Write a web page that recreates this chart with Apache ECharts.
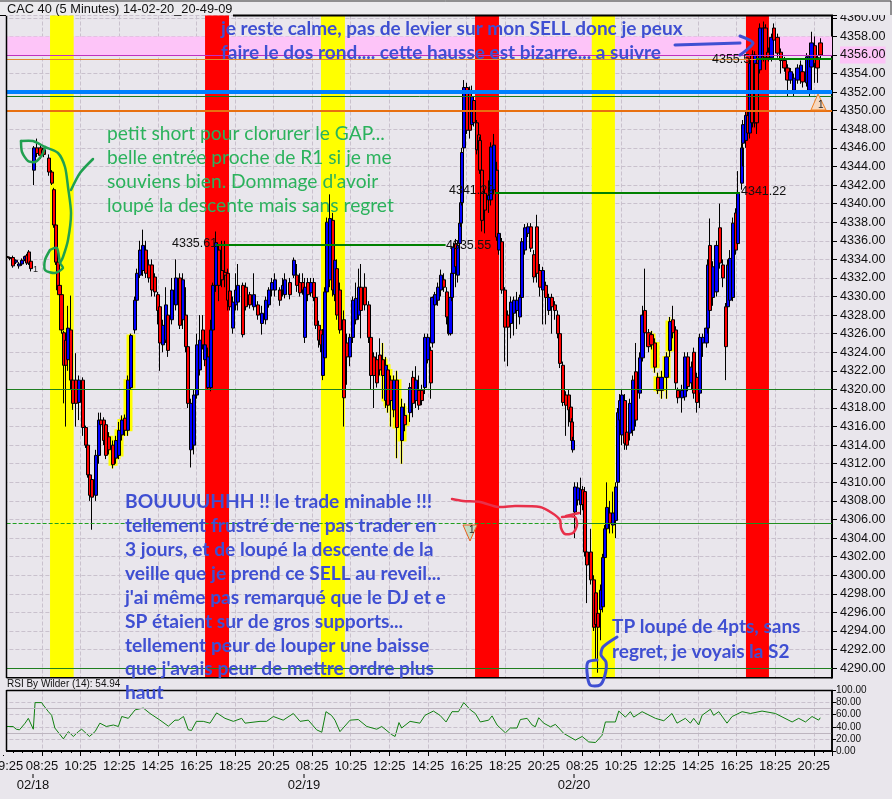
<!DOCTYPE html>
<html><head><meta charset="utf-8">
<style>html,body{margin:0;padding:0;background:#e9e6ec}#c{width:892px;height:799px}</style>
<script src="https://cdn.jsdelivr.net/npm/echarts@6/dist/echarts.min.js"></script>
</head><body><div id="c"></div>
<script>
// rows: [bar index (5-minute bars), open, close, low, high]
const candlesFeb17 = [
[2.3,4334.3,4334.2,4334,4334.5],[4.1,4334.2,4334.1,4333.9,4334.3],[6,4334.2,4333.3,4333.1,4334.4],[7.9,4333.7,4333.9,4333.5,4334],
[9.7,4333.3,4333.5,4333,4333.7],[11.6,4333.5,4333.9,4333.3,4334.1],[13.4,4334,4334.3,4333.8,4334.4],[14.7,4334.4,4333.6,4333.4,4334.6],
[16,4334.8,4333.6,4333.4,4335],[17.2,4333.8,4333,4332.7,4334]];
const candlesFeb18 = [
[19,4343.6,4346,4342,4346.2],[21,4346,4345.4,4345,4347],[23,4346,4345.2,4344.8,4346.3],[25,4345.8,4345.3,4345,4346],
[28.4,4344.9,4343.4,4343,4345.3],[30.2,4343.4,4342.2,4342,4343.6],[31.4,4341.5,4337.7,4337.4,4341.7],[32.6,4337.7,4333.7,4333.4,4337.9],
[33.8,4333.7,4330.7,4330.3,4333.9],[35,4331.2,4330.2,4329.9,4331.4],[36,4330.2,4326.4,4326,4330.4],[37.6,4326.1,4322.6,4318.5,4326.3],
[39,4325.3,4322.6,4316,4325.5],[40.2,4323.2,4326.6,4322,4329],[42,4326.4,4321,4320,4330.1],[43.3,4321,4318.5,4317.8,4321.5],
[45.2,4321,4318.5,4316,4323.9],[47,4318.6,4321,4316.7,4321.5],[49.5,4321,4315.9,4315,4321.3],[51.4,4315.9,4314,4313.7,4316.1],
[52.6,4314,4310.8,4310.5,4314.2],[53.9,4310.8,4308.6,4308,4311],[55.1,4310.3,4308.4,4304.9,4310.5],[57.6,4308.6,4312.9,4308,4313.5],
[59.5,4312.9,4316.7,4312,4317.5],[60.7,4316.7,4316.2,4316,4317.5],[62.6,4316.7,4314.5,4314,4317],[63.8,4316.2,4312.9,4312.5,4316.5],
[65.7,4314.9,4313.5,4313,4315.4],[68.2,4314,4311.9,4311.5,4314.5],[70,4312.6,4314.5,4312,4315],[71.9,4312.9,4315.6,4312.5,4316.5],
[73.8,4315.1,4316.7,4314.5,4317.2],[75.6,4316.9,4315.6,4315,4317.3],[77.5,4315.6,4321,4315,4321.5],[79.4,4320.2,4325.8,4320,4326],
[81.9,4326.4,4329.6,4326,4330],[83.1,4329.6,4332.5,4329,4333],[85,4332.3,4335,4332,4336],[86.8,4332.8,4335.5,4332.2,4337.2],
[88.7,4335,4332.5,4332,4336],[90.6,4333.4,4332,4331.5,4334],[92.4,4333.4,4330.7,4330,4334],[94.3,4332.1,4330.5,4330,4332.5],
[96.2,4330.2,4328.5,4327,4330.5],[97.4,4328.9,4325,4322,4329.5],[99.3,4324.8,4326.9,4324,4327.5],[101.1,4325.3,4329.1,4325,4331],
[102.4,4328,4324.2,4323.5,4329],[104.9,4327.5,4330.7,4327,4332],[107.4,4329.1,4332,4328.5,4334],[109.8,4332,4326.9,4326.5,4332.5],
[111.7,4327.5,4331.8,4326.5,4332.5],[113.6,4328,4324.6,4324,4331],[114.8,4324.6,4318.5,4318,4325],[116.7,4313.5,4318.5,4311.6,4319],
[118.5,4314,4319.4,4313,4320],[120.4,4319.4,4324.8,4319,4326],[122.3,4322.1,4325.3,4321.5,4328],[124.1,4326.4,4324.8,4324.3,4328],
[125.4,4323.2,4324.8,4322.5,4326],[127.3,4320.2,4323.5,4320,4324.5],[129.1,4320.2,4326.4,4319.8,4327.5],[130.4,4326.4,4331.2,4326,4331.5],
[132.2,4331.2,4335.8,4330.5,4337],[134.1,4335,4331.2,4329.5,4335.5],[136,4332.8,4331.8,4331,4336],[137.8,4332.6,4332.3,4331,4336],
[139.7,4332.5,4329.6,4328.5,4333],[141,4330.6,4328.9,4328.5,4332],[142.8,4326.6,4329.4,4326,4330],[144.7,4329.1,4330.7,4328.5,4332.5],
[146,4329.4,4331.2,4328.5,4333.5],[149,4331.2,4325.9,4325.6,4331.5],[150.9,4331,4328.9,4328.5,4331.5],[153.4,4330.2,4329.1,4328.7,4330.5],
[155.9,4328.9,4330.2,4328.5,4332.5],[158.4,4329.1,4328,4327.5,4329.5],[160.8,4327.1,4328.2,4325.9,4329],[163.3,4327.5,4329.6,4327,4330],
[165.2,4329.1,4330.7,4328.8,4331],[167,4330.7,4331.5,4330,4332]];
const candlesFeb19 = [
[168.9,4330.7,4331.8,4330,4332.5],[172,4330.7,4329.6,4329,4331],[173.9,4330.7,4331.2,4330,4332],[175.1,4330.2,4331.8,4329.8,4332.5],
[178.2,4331.5,4330.2,4329.7,4332],[180.7,4332.3,4333.9,4332,4334.2],[182.6,4332.3,4331.2,4330.5,4333.5],[184.5,4331.5,4330.4,4330,4332.5],
[186.3,4331.5,4330.7,4330.2,4332.5],[187.6,4325.6,4331,4325,4332],[189.4,4331.5,4330.2,4329.5,4332],[191.3,4330.4,4331.5,4330,4332],
[193.2,4331.5,4329.9,4329.5,4332],[194.4,4329.9,4326.9,4326.5,4330.3],[196.3,4326.9,4325.3,4324.5,4327.4],[197.5,4326.4,4324.8,4324,4326.9],
[198.8,4321.5,4325.9,4321,4326.5],[200,4323.4,4330.5,4323,4331],[201.3,4330.5,4338,4329.5,4338.5],[203.1,4331.8,4338.4,4331,4341],
[205,4338.2,4330.7,4330,4339],[206.2,4330.2,4333.9,4329.5,4336],[207.5,4333,4328,4327.5,4334],[209.4,4330.7,4326.4,4326,4331.5],
[211.8,4327.5,4319.1,4316,4328.5],[213.7,4325,4323.5,4320.5,4326],[215.6,4323.5,4325.6,4322.5,4326],[217.4,4325.6,4329.6,4325,4330],
[219.3,4327.5,4329.8,4327,4331.5],[221.2,4328,4331,4327.5,4333],[222.4,4331,4328.5,4325.5,4333.5],[224.9,4331,4329.1,4328.5,4332.5],
[227.4,4329.1,4325.6,4325,4329.5],[228.6,4325.6,4321.5,4320,4326],[230.5,4323.5,4321.5,4318,4324],[232.4,4323.2,4320.7,4320.2,4324],
[234.2,4323.7,4322.1,4321.5,4325.5],[236.1,4323.2,4321.5,4319,4325],[238,4318.8,4322.6,4318,4323.5],[239.2,4322.1,4318.3,4317.5,4322.6],
[241.1,4321,4318.8,4316,4321.5],[243,4317.8,4321,4317,4321.5],[244.8,4321,4315.9,4312.6,4322],[247.9,4314.5,4318.1,4312,4319],
[249.8,4317.2,4316.2,4315.5,4318.5],[252.9,4317.5,4320.2,4316.5,4320.7],[254.7,4321.3,4318.5,4317,4322],[256.6,4318.8,4321,4318,4322.5],
[258.5,4319.9,4318.3,4317.8,4321.5],[260.3,4319.9,4318.8,4318.3,4320.5],[262.2,4320.2,4325.6,4319.5,4326],[264,4323.2,4325.6,4322.8,4326],
[265.9,4324.2,4320.7,4319,4324.6],[266.9,4325,4329.9,4324.5,4330],[268.4,4329.1,4330.2,4328.5,4330.5],[270.3,4329.6,4331,4329,4331.5],
[272.2,4330.7,4332.3,4330,4332.9],[274,4331.8,4331,4330.5,4332.5],[275.9,4330.5,4327.8,4327,4331],[277.1,4327.8,4326,4325.8,4328.2],
[278.1,4326,4329.9,4325.8,4330.2],[279,4329.9,4332.5,4329.5,4333],[279.9,4332.5,4335.3,4332,4335.8],[281.5,4335.7,4333.2,4331,4336.2],
[282.7,4332.3,4335.5,4331.5,4336],[284,4335.7,4337.9,4335,4338.3],[284.6,4337.9,4340.1,4337.5,4340.5],[285.2,4340.1,4345.5,4339.8,4346],
[286.5,4346,4352.5,4345.5,4353.3],[288.3,4352.5,4347.9,4347.5,4353],[290.2,4352.2,4347.9,4347,4352.6],[291.4,4348.5,4351.5,4348,4352.7],
[292.7,4351.1,4348.7,4348.3,4351.5],[294.5,4348.7,4345.8,4345.3,4349],[295.8,4347.4,4345.8,4345.3,4347.8],[296.4,4346.8,4343.6,4343.2,4347.2],
[297.7,4343.6,4338.2,4337,4344],[299.5,4341.1,4339.3,4336.8,4341.5],[302,4340.4,4340.9,4339,4342.5],[303.2,4340.4,4346.1,4339.8,4346.6],
[305.1,4341.5,4346.3,4341,4347.5],[307,4343.6,4336.4,4336,4344.5],[308.2,4335,4336.8,4334.5,4337.5],[310.1,4335.9,4330.7,4330.3,4336.3],
[312,4330.7,4326.7,4323,4331],[313.8,4328,4326.7,4322.5,4328.5],[315.7,4327.1,4329.4,4325.5,4330],[317.5,4328.2,4329.6,4325.8,4330],
[319.4,4328.5,4329.6,4326.5,4330.5],[321.3,4327.8,4329.9,4327,4330.2],[322.5,4329.9,4335.9,4329.5,4336.3],[324.4,4335,4337.4,4334.5,4337.8],
[326.3,4336.8,4337.5,4336.4,4337.9],[328.1,4337.5,4335.2,4334.8,4337.9],[330,4334.5,4332.1,4331.5,4335],[331.9,4337.5,4332.5,4331.5,4338.8],
[333.7,4332.8,4331,4330,4333.5],[335.6,4330.7,4332.8,4327,4333.2]];
const candlesFeb20 = [
[337.5,4331.2,4329.9,4327,4331.6],[339.3,4328.5,4329.9,4328,4330.3],[341.2,4329.9,4328.9,4326,4330.3],[343.1,4329.1,4328.5,4327.5,4329.5],
[344.9,4328,4326,4325.5,4328.5],[346.2,4326,4322.8,4322.3,4326.4],[348,4322.6,4318.6,4318.2,4323],[349.9,4319.4,4318.3,4315,4319.8],
[351.8,4319.4,4317.8,4316,4320],[353,4318.1,4316.5,4316,4318.5],[353.6,4316.5,4314.5,4314,4316.9],[354.2,4313.5,4314.5,4313.2,4314.9],
[355.5,4306.8,4309.5,4304,4310],[357.4,4308.1,4309.4,4307.5,4310],[359.2,4307.6,4309.2,4306.5,4310.5],[360.5,4309.2,4307.6,4307,4309.6],
[361.7,4309,4302.5,4302,4309.5],[363,4302.5,4301.1,4297,4303],[365.4,4302.5,4299.5,4299,4305],[367.3,4299.5,4294.4,4294,4300],
[368.5,4298.1,4294.7,4291,4298.5],[369.8,4295.9,4294.4,4289.5,4296.3],[371.7,4296.3,4298.4,4293,4299],[372.9,4296.6,4301.9,4296,4302.3],
[374.2,4301.9,4305,4301.5,4305.4],[375.4,4305,4307.3,4304,4310],[377.3,4306.7,4305.6,4304.5,4308],[379.1,4305.4,4306.7,4304.5,4309],
[381,4305.9,4309.5,4304,4310],[382.2,4310,4317.5,4309.5,4318],[383.5,4316.7,4318.8,4316,4319.5],[384.7,4315.1,4319.4,4314,4320],
[386.6,4318.8,4314.2,4313.5,4319.5],[387.8,4315.4,4314,4313.5,4316],[389.7,4315.3,4318.5,4314.5,4319],[391.6,4315.6,4321,4315,4321.5],
[393.4,4321.9,4316.7,4316,4325],[395.9,4319.6,4323.4,4319,4324],[397.6,4323.4,4328,4323,4329],[399,4328.5,4326.1,4325.5,4333],
[401.1,4326.1,4324.6,4324,4326.5],[403.2,4325.9,4324.8,4324.3,4326.3],[405.2,4325,4322.4,4321.8,4325.5],[407.1,4321.3,4319.9,4319.5,4321.8],
[409.4,4319.9,4321.3,4319,4322],[412.5,4321.3,4323.5,4319,4324],[414.6,4324.2,4327.3,4323.5,4327.8],[416.3,4327.5,4326.1,4325.5,4329],
[418.3,4326.4,4320.7,4320,4326.8],[419.5,4319.9,4319.1,4318.5,4320.2],[421.9,4319.1,4319.9,4317.5,4320.5],[423.9,4319.2,4323.5,4318.8,4324],
[425.8,4323.5,4320.3,4319.8,4324],[428,4320.7,4322.4,4320,4323],[429.5,4324,4319.6,4319,4324.5],[431.2,4321.3,4318.6,4317.5,4321.8],
[433.2,4319.6,4325.6,4318,4326],[435.1,4325,4325.6,4323.5,4326],[437.4,4325,4326.6,4324.5,4327],[438.2,4326.6,4333.4,4326,4334],
[439.4,4335.5,4328.5,4328,4338.4],[441.3,4329.9,4333.2,4329,4333.8],[443.6,4330.5,4335.5,4330,4336],[445.7,4337.4,4333.6,4333,4340],
[447.5,4333.4,4332,4331,4334],[449.4,4328.9,4324.6,4321,4329.3],[450.5,4328.9,4333.4,4328,4334],[451.9,4329.6,4334.1,4329,4335],
[453.7,4329.9,4337.9,4329.5,4338.5],[455.6,4339,4335,4334.5,4339.5],[456.9,4335.7,4341.2,4335.3,4343.5],[459.2,4342.2,4346,4341.5,4346.5],
[460,4346.5,4348.5,4344,4349],[461.8,4346.8,4349.5,4346,4350],[463.1,4349.5,4347.6,4347,4350],[464.3,4347.6,4355.1,4347,4355.6],
[466,4356,4348.7,4348.2,4356.5],[467.4,4348.7,4356,4348.2,4356.4],[468.5,4355.1,4348.7,4347.5,4356],[470.5,4354.4,4358.9,4354,4359.4],
[472.6,4355.8,4358.9,4355.3,4359.6],[474,4358.9,4355.7,4354.4,4359.3],[475.7,4356.3,4355.7,4355.3,4356.8],[477.8,4355.7,4357.9,4355.3,4358.3],
[479.2,4358.9,4357.6,4357.2,4359.4],[481.3,4357.9,4356.2,4355.7,4358.3],[483.6,4356.3,4355.4,4354,4356.7],[485.7,4355.4,4354.6,4354.2,4355.8],
[487.5,4354.6,4353.3,4351.5,4355],[489.6,4353.3,4354.2,4352.9,4354.6],[491.7,4352.2,4353.5,4351.5,4354],[493.7,4353.3,4354.6,4352.9,4355],
[495.9,4353.3,4354.9,4352.9,4355.4],[496.8,4354.2,4353.1,4352.5,4354.6],[499.6,4353,4355.8,4352.6,4356.2],[501.2,4352.2,4355.8,4351.5,4356.2],
[502.7,4354.7,4357.3,4354.3,4358.5],[504.7,4357,4355.1,4353,4358],[506.2,4355.7,4354.6,4353,4356],[508.3,4357.3,4356,4355.5,4357.8]];
// RSI: [bar index, value]
const rsiValues = [[2,40.5],[6,40.5],[8,36],[10,35],[13.5,46],[15.5,54],[18.6,36],[19.7,80],[23.8,80],[24.8,76],[28,65],[30,59],[32,38],[37.3,20],[40.4,32],[43.5,24],[46.6,32],[48.7,36],[53.5,24],[57,32],[60,46],[64,40.5],[68.4,43],[71.5,40.5],[73.6,57],[77.7,54],[81.9,68],[87,71],[91.2,62],[97.4,51],[102.6,41],[106.7,51],[108.8,51],[112,57],[115,35],[117,34],[120,49],[124.3,49],[128.5,46],[132.6,63],[137.8,54],[143,49],[148.2,54],[150.3,46],[159.6,49],[163.7,49],[167.9,57],[174,51],[180.3,62],[184.5,49],[189.6,51],[194.8,35],[198,31],[200.6,65],[204,59],[206.2,51],[209.3,32],[215.6,51],[220.7,52],[226,40.5],[232.2,36],[235.3,40.5],[241.5,27],[243.6,24],[246,47],[247.7,38],[252.9,49],[259,46],[262.2,59],[267.4,66],[271.5,59],[275.3,48],[279,65],[283,65],[286.3,80],[290.4,68],[293.5,62],[296.6,48],[301.8,51],[303.9,58],[307,43],[312.2,30],[315.3,38],[319.4,38],[321.5,52],[325.7,54],[328.8,43],[330.8,40],[332.9,55],[336,46],[340.2,40],[343.3,44],[348.5,29],[355.7,18],[359.9,24],[364,15],[368.2,14],[372.3,26],[374.4,48],[380.6,48],[382.7,66],[386.8,56],[389.9,65],[392,56],[397.2,65],[405.5,54],[410.7,50],[415.8,62],[418.9,46],[424.1,54],[427.2,46],[429.3,54],[432.4,43],[434.5,59],[439.7,69],[441.7,59],[444.9,65],[450,46],[453.2,57],[459.4,65],[464.6,62],[471.8,66],[480.1,62],[490.5,48],[494.6,54],[498.8,48],[502.9,57],[507,51],[508,54.94]];
const tickLabels = ["19:25","08:25","10:25","12:25","14:25","16:25","18:25","20:25","08:25","10:25","12:25","14:25","16:25","18:25","20:25","08:25","10:25","12:25","14:25","16:25","18:25","20:25"];
const yellowBands = [[29,43.7],[197.5,212.4],[365.9,380.3]];
const redBands = [[125.4,140.3],[293.3,308.2],[461.8,476.1]];
const highlightRanges = [[65,81],[235,250],[402,416]];
const levels = [
 {v:4356,from:2,to:515.3,c:'#c030c0',w:1},
 {v:4355.55,from:2,to:515.3,c:'#e08a30',w:1},
 {v:4355.55,from:468,to:515.3,c:'#008000',w:2},
 {v:4352,from:2,to:515.3,c:'#0080ff',w:4},
 {v:4351.6,from:2,to:515.3,c:'#1a7a1a',w:1},
 {v:4350,from:2,to:515.3,c:'#e87010',w:2},
 {v:4341.22,from:305.7,to:458,c:'#008000',w:2},
 {v:4335.6,from:132,to:275,c:'#008000',w:2},
 {v:4320,from:2,to:515.3,c:'#1f7f1f',w:1},
 {v:4305.6,from:2,to:355.5,c:'#1f9f1f',w:1,dash:true},
 {v:4305.6,from:355.5,to:515.3,c:'#1f8f1f',w:1},
 {v:4290,from:2,to:515.3,c:'#1f7f1f',w:1},
 {v:4289,from:2,to:515.3,c:'#000',w:1}
];
const greenNote = ["petit short pour clorurer le GAP...","belle entrée proche de R1 si je me","souviens bien. Dommage d'avoir","loupé la descente mais sans regret"];
const topNote = ["je reste calme, pas de levier sur mon SELL donc je peux","faire le dos rond.... cette hausse est bizarre... a suivre"];
const mainNote = ["BOUUUUHHH !! le trade minable !!!","tellement frustré de ne pas trader en","3 jours, et de loupé la descente de la","veille que je prend ce SELL au reveil...","j'ai même pas remarqué que le DJ et e","SP étaient sur de gros supports...","tellement peur de louper une baisse","que j'avais peur de mettre ordre plus","haut"];
const tpNote = ["TP loupé de 4pts, sans","regret, je voyais la S2"];
const priceTags = [["4335.61",172,244],["4335.55",446,246],["4341.22",449,191],["4341.22",741,192],["4355.5",712,60]];
const dateLabels = [["02/18",33],["02/19",304],["02/20",574]];

const BG='#e9e6ec', GRID='#c9c1cd', BLUE='#3f4fd2', GREEN='#2bb25c';
const candles = candlesFeb17.concat(candlesFeb18,candlesFeb19,candlesFeb20);
const highlighted = candles.filter(r=>highlightRanges.some(g=>r[0]>=g[0]&&r[0]<=g[1]));
const xMax=515.3, yMin=4288, yMax=4360.25;

function poly(points,color,w){return {type:'polyline',z:60,silent:true,shape:{points,smooth:0.25},style:{stroke:color,lineWidth:w,fill:null,lineCap:'round',lineJoin:'round'}};}
function txt(t,x,y,font,fill,z,align){return {type:'text',z:z||70,silent:true,style:{text:t,x,y,font,fill,textAlign:align||'left',textVerticalAlign:'middle'}};}
function seg(x1,y1,x2,y2,w,c,z){return {type:'line',z:z||55,silent:true,shape:{x1,y1,x2,y2},style:{stroke:c||'#000',lineWidth:w||1}};}
function tri(pts,fill,stroke){return {type:'polygon',z:58,silent:true,shape:{points:pts},style:{fill,stroke,lineWidth:1}};}
const graphics=[
 {type:'rect',z:50,silent:true,shape:{x:0,y:678.5,width:837,height:11.5},style:{fill:BG}},
 {type:'rect',z:50,silent:true,shape:{x:0,y:15,width:6,height:740},style:{fill:BG}},
 {type:'rect',z:50,silent:true,shape:{x:0,y:0,width:892,height:15},style:{fill:'#ecebee'}},
 seg(0,1,891,1,1,'#333'), seg(891,1,891,15,1,'#333'),
 seg(233,15.5,833,15.5,2), seg(0,15.5,6,15.5,1),
 seg(6.5,16,6.5,678,1.5), seg(6.5,678,832,678,1),
 seg(6.5,690.5,833,690.5,1.5), seg(6.5,690,6.5,751,1.5), seg(832,690,832,751,1.5),
 seg(33,774,33,778,1),seg(304,774,304,778,1),seg(574,774,574,778,1),
 txt("CAC 40 (5 Minutes) 14-02-20_20-49-09",7,9,'12.8px "Liberation Sans"','#111'),
 txt("RSI By Wilder (14): 54.94",7,684,'10px "Liberation Sans"','#111'),
 poly([[21,141],[33,141],[45,147],[58,153],[65,167],[68,187],[71,213],[68,240],[63,257],[60,263]],'#20a050',2.5),
 poly([[21,141],[22,152],[28,161],[35,162],[42,155],[45,147]],'#20a050',2.5),
 poly([[50,250],[57,248],[60,263],[63,268],[55,273],[45,270],[45,260],[50,250]],'#20a050',2.5),
 poly([[71,190],[80,173],[93,159]],'#20a050',2.5),
 poly([[452,499],[463,501],[480,502],[498,507],[515,506],[540,507],[552,513],[560,520],[561,528],[565,534],[573,533],[577,525],[575,517],[562,517]],'#e8304a',2.5),
 poly([[566,516],[579,513]],'#e8304a',2.5),
 poly([[617,637],[603,647],[601,655],[606,662],[605,675],[600,685],[590,685],[587,672],[588,662],[597,660]],BLUE,3),
 poly([[675,45],[740,43]],BLUE,3),
 poly([[740,36],[753,43],[740,55]],BLUE,3),
 tri([[463,525],[477,525],[470,541]],'#c4dcc4','#e86020'),
 tri([[811,110],[826,110],[818,94]],'#f6d8c0','#f08020'),
 txt("1",469,530,'10px "Liberation Sans"','#222'),
 txt("1",818,105,'10px "Liberation Sans"','#222'),
 txt("1",33,270,'9px "Liberation Sans"','#222')
];
greenNote.forEach((t,i)=>graphics.push(txt(t,107,134+i*23.9,'19.2px Lato',GREEN)));
topNote.forEach((t,i)=>graphics.push(txt(t,221,29+i*24,'bold 19px Lato',BLUE)));
mainNote.forEach((t,i)=>graphics.push(txt(t,125,502+i*23.9,'bold 19.2px Lato',BLUE)));
tpNote.forEach((t,i)=>graphics.push(txt(t,612,627+i*25,'bold 19px Lato',BLUE)));
priceTags.forEach(p=>graphics.push(txt(p[0],p[1],p[2],'12.5px "Liberation Sans"','#111',56)));
dateLabels.forEach(d=>graphics.push(txt(d[0],d[1],785,'13px "Liberation Sans"','#111',56,'center')));

const chart=echarts.init(document.getElementById('c'),null,{renderer:'canvas'});
const tickFmt=v=>{const s=tickLabels[v/24];if(s===undefined)return '';return v===0?'\u00a0\u00a0'+s:s;};
chart.setOption({
 animation:false,backgroundColor:BG,
 graphic:graphics,
 grid:[{left:3.4,top:15.5,width:828.6,height:671.2,outerBoundsMode:'none',containLabel:false},{left:3.4,top:690.5,width:828.6,height:60.5,outerBoundsMode:'none',containLabel:false}],
 xAxis:[
  {type:'value',gridIndex:0,min:0,max:xMax,interval:24,axisLine:{show:false},axisTick:{show:false},axisLabel:{show:false},splitLine:{show:true,lineStyle:{color:GRID,type:'dashed',width:1}}},
  {type:'value',gridIndex:1,min:0,max:xMax,interval:24,axisLine:{show:true,onZero:false,lineStyle:{color:'#000',width:2}},axisTick:{show:true,length:5,lineStyle:{color:'#000'}},minorTick:{show:true,splitNumber:4,length:2,lineStyle:{color:'#000'}},
   axisLabel:{show:true,formatter:tickFmt,color:'#111',fontFamily:'Liberation Sans',fontSize:13,margin:9,hideOverlap:false,showMinLabel:true},splitLine:{show:true,lineStyle:{color:GRID,type:'dashed'}}}
 ],
 yAxis:[
  {type:'value',gridIndex:0,position:'right',min:yMin,max:yMax,interval:2,axisLine:{show:true,onZero:false,lineStyle:{color:'#000',width:2}},axisTick:{show:true,length:5,lineStyle:{color:'#000'}},
   axisLabel:{color:'#111',fontFamily:'Liberation Sans',fontSize:12.6,margin:8,formatter:v=>{if(v<4289||v%2)return '';return v===4356?'{p|4356.00}':v.toFixed(2);},rich:{p:{backgroundColor:'#fdc4f8',padding:[2,0,2,0],fontSize:12.6,fontFamily:'Liberation Sans',color:'#111'}}},
   splitLine:{show:true,lineStyle:{color:GRID,type:'dashed',width:1}}},
  {type:'value',gridIndex:1,position:'right',min:0,max:100,interval:20,axisLine:{show:true,onZero:false,lineStyle:{color:'#000',width:1.5}},axisTick:{show:true,length:4,lineStyle:{color:'#000'}},
   axisLabel:{color:'#111',fontFamily:'Liberation Sans',fontSize:10,margin:4,formatter:v=>v.toFixed(2)},splitLine:{show:true,lineStyle:{color:GRID,type:'dashed'}}}
 ],
 series:[
  {type:'line',xAxisIndex:0,yAxisIndex:0,data:[],z:1,markArea:{silent:true,z:1,itemStyle:{color:'#fdc4f8',opacity:1},data:[[{coord:[2,4358]},{coord:[xMax,4356]}]]}},
  {type:'line',xAxisIndex:0,yAxisIndex:0,data:[],z:2,markArea:{silent:true,z:2,itemStyle:{color:'#ffff00',opacity:1},data:yellowBands.map(b=>[{coord:[b[0],yMax]},{coord:[b[1],4289]}])}},
  {type:'line',xAxisIndex:0,yAxisIndex:0,data:[],z:2,markArea:{silent:true,z:2,itemStyle:{color:'#ff0000',opacity:1},data:redBands.map(b=>[{coord:[b[0],yMax]},{coord:[b[1],4289]}])}},
  {type:'candlestick',name:'highlight',xAxisIndex:0,yAxisIndex:0,z:3,barWidth:7,data:highlighted,encode:{x:0,y:[1,2,3,4]},itemStyle:{color:'#ffff00',color0:'#ffff00',borderColor:'#ffff00',borderColor0:'#ffff00',borderWidth:2}},
  {type:'candlestick',name:'CAC 40',xAxisIndex:0,yAxisIndex:0,z:4,barWidth:4,data:candles,encode:{x:0,y:[1,2,3,4]},itemStyle:{color:'#0000ff',color0:'#ff0000',borderColor:'#000',borderColor0:'#000',borderWidth:1}},
  {type:'line',xAxisIndex:0,yAxisIndex:0,data:[],z:5,markLine:{silent:true,z:5,symbol:'none',label:{show:false},data:levels.map(l=>[{coord:[l.from,l.v],lineStyle:{color:l.c,width:l.w,type:l.dash?'dashed':'solid'}},{coord:[l.to,l.v]}])}},
  {type:'line',name:'RSI',xAxisIndex:1,yAxisIndex:1,data:rsiValues,showSymbol:false,symbol:'none',lineStyle:{color:'#118011',width:1},z:4,
   markLine:{silent:true,symbol:'none',label:{show:false},lineStyle:{color:'#bdb5bf',type:'solid',width:1},data:[{yAxis:70},{yAxis:30}]}}
 ]
});
</script></body></html>
